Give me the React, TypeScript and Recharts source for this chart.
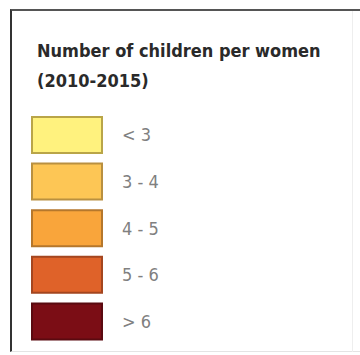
import React from 'react';
import { BarChart, Bar, XAxis, YAxis, Cell, LabelList } from 'recharts';

const TITLE_LINES = ['Number of children per women', '(2010-2015)'];
const CLASSES = ['< 3', '3 - 4', '4 - 5', '5 - 6', '> 6'];
const SWATCH = [1, 1, 1, 1, 1];
const FILLS = ['#fff27e', '#fdc655', '#f9a53b', '#df6229', '#7b0d15'];
const STROKES = ['#b9a548', '#b99040', '#b5772c', '#a4461f', '#5a0a10'];

const FONT = '"Liberation Sans Narrow", "DejaVu Sans Condensed", sans-serif';

const data = CLASSES.map((name, i) => ({ name, value: SWATCH[i] }));

const App: React.FC = () => {
  return (
    <div style={{ position: 'fixed', top: 0, left: 0, width: 360, height: 355, background: '#fff', overflow: 'hidden' }}>
      <div
        style={{
          position: 'absolute',
          left: 10,
          top: 9,
          width: 352,
          height: 343,
          borderLeft: '2px solid #333',
          borderTop: '2px solid #555',
          borderBottom: '1px solid #e4e4e4',
          boxSizing: 'border-box',
        }}
      />
      <div style={{ position: 'absolute', left: 352, top: 11, width: 1, height: 341, background: '#eeeeee' }} />
      <div
        style={{
          position: 'absolute',
          left: 37,
          top: 36,
          fontFamily: FONT,
          fontWeight: 'bold',
          fontSize: 18,
          lineHeight: '30px',
          color: '#2a2a2a',
        }}
      >
        {TITLE_LINES.map((t) => (
          <div key={t}>{t}</div>
        ))}
      </div>
      <div style={{ position: 'absolute', left: 0, top: 0 }}>
        <BarChart
          width={360}
          height={355}
          data={data}
          layout="vertical"
          margin={{ top: 112, right: 258, left: 32, bottom: 10 }}
        >
          <XAxis type="number" domain={[0, 1]} hide />
          <YAxis type="category" dataKey="name" hide />
          <Bar dataKey="value" barSize={36} isAnimationActive={false} strokeWidth={2}>
            {data.map((entry, index) => (
              <Cell key={`cell-${index}`} fill={FILLS[index]} stroke={STROKES[index]} />
            ))}
            <LabelList
              dataKey="name"
              position="right"
              offset={20}
              fill="#808080"
              fontSize={18}
              fontFamily={FONT}
            />
          </Bar>
        </BarChart>
      </div>
    </div>
  );
};

export default App;
